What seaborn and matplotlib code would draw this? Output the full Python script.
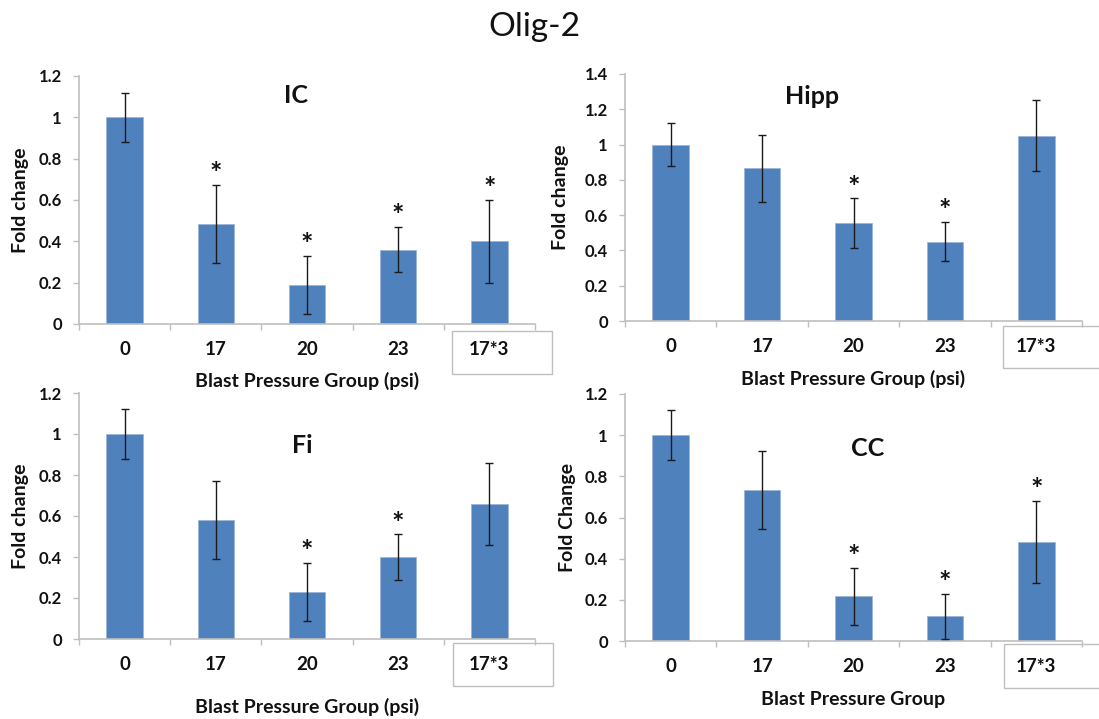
import matplotlib
matplotlib.use("Agg")
import matplotlib.pyplot as plt
import seaborn as sns
import pandas as pd
import numpy as np
from matplotlib.patches import Rectangle
from matplotlib.ticker import FixedLocator, FuncFormatter

# ---------------- data ----------------
groups = ["0", "17", "20", "23", "17*3"]

ic_mean = [1.00, 0.485, 0.19, 0.36, 0.40]
ic_err = [0.12, 0.19, 0.14, 0.11, 0.20]
ic_sig = [False, True, True, True, True]

hipp_mean = [1.00, 0.865, 0.555, 0.45, 1.05]
hipp_err = [0.12, 0.19, 0.14, 0.11, 0.20]
hipp_sig = [False, False, True, True, False]

fi_mean = [1.00, 0.58, 0.23, 0.40, 0.66]
fi_err = [0.12, 0.19, 0.14, 0.11, 0.20]
fi_sig = [False, False, True, True, False]

cc_mean = [1.00, 0.735, 0.217, 0.12, 0.48]
cc_err = [0.12, 0.19, 0.14, 0.11, 0.20]
cc_sig = [False, False, True, True, True]

titles = ["IC", "Hipp", "Fi", "CC"]
xlabels = ["Blast Pressure Group (psi)", "Blast Pressure Group (psi)",
           "Blast Pressure Group (psi)", "Blast Pressure Group"]
ylabels = ["Fold change", "Fold change", "Fold change", "Fold Change"]
ymaxes = [1.2, 1.4, 1.2, 1.2]
main_title = "Olig-2"

# ---------------- style ----------------
sns.set_style("white")
plt.rcParams["font.family"] = ["Lato", "DejaVu Sans"]
TXT = "#111111"
BLUE = "#4F81BD"
GRAY = "#BFBFBF"

W, H = 1099, 719
fig = plt.figure(figsize=(W / 100, H / 100), dpi=100)
fig.patch.set_facecolor("white")

# layout (figure fractions) and decoration positions (axes fractions)
layouts = [
    dict(rect=[79 / W, (H - 324) / H, 456 / W, 248 / H], tpos=(0.476, 0.891),
         box=(0.818, -0.202, 0.219, 0.174), xl=-0.254, yl=-0.129),
    dict(rect=[625 / W, (H - 321) / H, 457 / W, 247 / H], tpos=(0.41, 0.879),
         box=(0.827, -0.190, 0.215, 0.170), xl=-0.259, yl=-0.142),
    dict(rect=[79 / W, (H - 639) / H, 456 / W, 246 / H], tpos=(0.489, 0.756),
         box=(0.820, -0.190, 0.219, 0.174), xl=-0.300, yl=-0.129),
    dict(rect=[625 / W, (H - 641) / H, 457 / W, 247 / H], tpos=(0.53, 0.749),
         box=(0.830, -0.190, 0.215, 0.178), xl=-0.259, yl=-0.125),
]

series = [(ic_mean, ic_err, ic_sig), (hipp_mean, hipp_err, hipp_sig),
          (fi_mean, fi_err, fi_sig), (cc_mean, cc_err, cc_sig)]

for (mean, err, sig), lay, title, xlab, ylab, ymax in zip(series, layouts, titles, xlabels, ylabels, ymaxes):
    ax = fig.add_axes(lay["rect"])
    df = pd.DataFrame({"group": groups, "fold": mean})
    sns.barplot(data=df, x="group", y="fold", order=groups, color=BLUE,
                saturation=1, width=0.4, errorbar=None, ax=ax,
                edgecolor="#9DB6D8", linewidth=0.6)
    xs = ax.get_xticks()
    ax.errorbar(xs, mean, yerr=err, fmt="none", ecolor="#1a1a1a",
                elinewidth=1, capsize=3, capthick=1, zorder=3)
    for x, m, e, s in zip(xs, mean, err, sig):
        if s:
            ax.annotate("*", (x, m + e), xytext=(0, 2), textcoords="offset points",
                        ha="center", va="baseline", fontsize=21,
                        fontweight="bold", color=TXT)
    ax.set_xlim(-0.5, len(groups) - 0.5)
    ax.set_ylim(0, ymax)
    ax.set_yticks(np.arange(0, ymax + 1e-9, 0.2))
    ax.yaxis.set_major_formatter(FuncFormatter(lambda v, p: "{:g}".format(round(v, 2))))
    ax.xaxis.set_minor_locator(FixedLocator(np.arange(-0.5, len(groups), 1.0)))
    ax.tick_params(axis="x", which="major", length=0, pad=12.5, labelsize=13.5,
                   labelcolor=TXT)
    ax.tick_params(axis="x", which="minor", length=4.5, width=1, color=GRAY,
                   direction="out", bottom=True)
    ax.tick_params(axis="y", which="major", length=4.3, width=1, color=GRAY,
                   direction="out", left=True, pad=8, labelsize=12,
                   labelcolor=TXT)
    for lbl in ax.get_xticklabels() + ax.get_yticklabels():
        lbl.set_fontweight("bold")
    sns.despine(ax=ax)
    for sp in ("left", "bottom"):
        ax.spines[sp].set_color(GRAY)
        ax.spines[sp].set_linewidth(1.2)

    ax.set_xlabel(xlab, fontsize=14, fontweight="bold", color=TXT)
    ax.xaxis.set_label_coords(0.5, lay["xl"])
    ax.xaxis.label.set_va("baseline")
    ax.set_ylabel(ylab, fontsize=14, fontweight="bold", color=TXT)
    ax.yaxis.label.set_va("center")
    ax.yaxis.set_label_coords(lay["yl"], 0.5)

    ax.text(lay["tpos"][0], lay["tpos"][1], title, transform=ax.transAxes,
            ha="center", va="baseline", fontsize=18, fontweight="bold", color=TXT)

    bx, by, bw, bh = lay["box"]
    ax.add_patch(Rectangle((bx, by), bw, bh, transform=ax.transAxes,
                           fill=False, edgecolor=GRAY, linewidth=1, clip_on=False))

fig.text(534 / W, 1 - 36 / H, main_title, ha="center", va="baseline",
         fontsize=24, color=TXT)

fig.savefig("out.png", dpi=100, facecolor="white")
